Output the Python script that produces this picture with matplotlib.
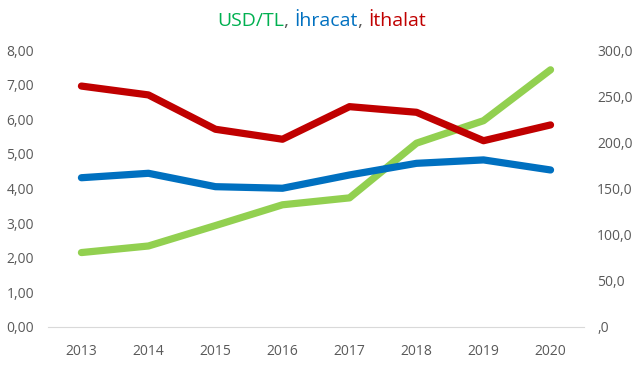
import matplotlib.pyplot as plt
from matplotlib.ticker import FuncFormatter

years = ["2013", "2014", "2015", "2016", "2017", "2018", "2019", "2020"]
usd_tl = [2.15, 2.34, 2.93, 3.53, 3.73, 5.31, 5.96, 7.43]
ihracat = [161.7, 166.5, 152.0, 150.3, 164.7, 177.3, 181.0, 170.1]
ithalat = [261.0, 251.4, 214.2, 203.4, 238.7, 232.6, 201.8, 218.9]

plt.rcParams['font.family'] = ['Open Sans', 'DejaVu Sans']

fig = plt.figure(figsize=(6.39, 3.66), dpi=100)
ax = fig.add_axes([0.075, 0.1066, 0.839, 0.7566])
ax2 = ax.twinx()

x = range(len(years))
ax.plot(x, usd_tl, color='#92D050', lw=5.2, solid_capstyle='round', zorder=3)
ax2.plot(x, ihracat, color='#0070C0', lw=5.2, solid_capstyle='round')
ax2.plot(x, ithalat, color='#C00000', lw=5.2, solid_capstyle='round')

ax.set_xlim(-0.5, len(years) - 0.5)
ax.set_ylim(0, 8)
ax2.set_ylim(0, 300)
ax.set_yticks(range(0, 9))
ax2.set_yticks(range(0, 301, 50))
ax.set_xticks(list(x))
ax.set_xticklabels(years)

ax.yaxis.set_major_formatter(FuncFormatter(lambda v, p: f"{v:.2f}".replace('.', ',')))
ax2.yaxis.set_major_formatter(FuncFormatter(lambda v, p: ",0" if v == 0 else f"{v:.1f}".replace('.', ',')))

for a in (ax, ax2):
    for s in a.spines.values():
        s.set_visible(False)
    a.tick_params(length=0, colors='#595959', labelsize=10)
ax.spines['bottom'].set_visible(True)
ax.spines['bottom'].set_color('#D9D9D9')
ax.tick_params(axis='y', pad=10)
ax.tick_params(axis='x', pad=12)
ax2.tick_params(axis='y', pad=9.5)

t1 = fig.text(0.34, 0.93, "USD/TL", color='#00B050', fontsize=14, va='baseline')
t2 = fig.text(0, 0, ", ", color='#595959', fontsize=14, va='baseline')
t3 = fig.text(0, 0, "İhracat", color='#0070C0', fontsize=14, va='baseline')
t4 = fig.text(0, 0, ", ", color='#595959', fontsize=14, va='baseline')
t5 = fig.text(0, 0, "İthalat", color='#C00000', fontsize=14, va='baseline')
fig.canvas.draw()
r = fig.canvas.get_renderer()
prev = t1
for t in (t2, t3, t4, t5):
    bb = prev.get_window_extent(r)
    x0 = bb.x1 / fig.bbox.width
    t.set_position((x0, 0.93))
    prev = t

fig.savefig("out.png", dpi=100)
